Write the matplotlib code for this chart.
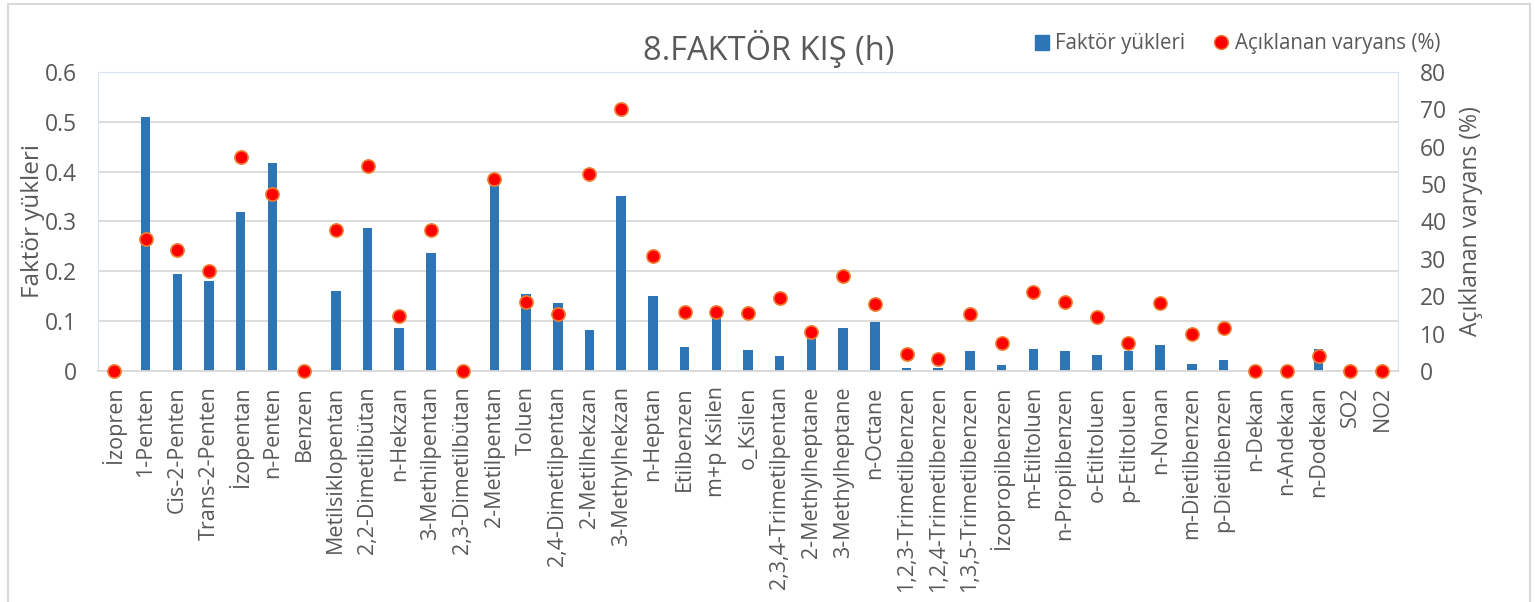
import numpy as np
import matplotlib.pyplot as plt
from matplotlib.lines import Line2D
from matplotlib.patches import Rectangle

plt.rcParams['font.family'] = ['Open Sans', 'DejaVu Sans']

bilesikler = ['İzopren', '1-Penten', 'Cis-2-Penten', 'Trans-2-Penten', 'İzopentan',
              'n-Penten', 'Benzen', 'Metilsiklopentan', '2,2-Dimetilbütan', 'n-Hekzan',
              '3-Methilpentan', '2,3-Dimetilbütan', '2-Metilpentan', 'Toluen',
              '2,4-Dimetilpentan', '2-Metilhekzan', '3-Methylhekzan', 'n-Heptan',
              'Etilbenzen', 'm+p Ksilen', 'o_Ksilen', '2,3,4-Trimetilpentan',
              '2-Methylheptane', '3-Methylheptane', 'n-Octane', '1,2,3-Trimetilbenzen',
              '1,2,4-Trimetilbenzen', '1,3,5-Trimetilbenzen', 'İzopropilbenzen',
              'm-Etiltoluen', 'n-Propilbenzen', 'o-Etiltoluen', 'p-Etiltoluen', 'n-Nonan',
              'm-Dietilbenzen', 'p-Dietilbenzen', 'n-Dekan', 'n-Andekan', 'n-Dodekan',
              'SO2', 'NO2']

faktor_yukleri = [0.0, 0.51, 0.194, 0.181, 0.32, 0.418, 0.0, 0.161, 0.286, 0.086,
                  0.236, 0.0, 0.38, 0.155, 0.137, 0.082, 0.352, 0.151, 0.048, 0.115,
                  0.042, 0.030, 0.075, 0.086, 0.098, 0.007, 0.006, 0.041, 0.012,
                  0.044, 0.040, 0.032, 0.041, 0.052, 0.014, 0.022, 0.0, 0.0, 0.045,
                  0.0, 0.0]

varyans = [0.0, 35.2, 32.4, 26.7, 57.2, 47.4, 0.0, 37.6, 54.8, 14.7,
           37.7, 0.0, 51.5, 18.4, 15.3, 52.6, 70.2, 30.8, 15.7, 15.7,
           15.4, 19.4, 10.5, 25.3, 17.8, 4.5, 3.2, 15.2, 7.6,
           21.1, 18.4, 14.4, 7.5, 18.1, 9.8, 11.6, 0.0, 0.0, 4.0,
           0.0, 0.0]

yazi = '#595959'
mavi = '#2E75B6'

fig = plt.figure(figsize=(15.35, 6.02), dpi=100)
fig.patches.append(Rectangle((8 / 1535, -0.01), 1522 / 1535, 1 - 4 / 602 + 0.01,
                             transform=fig.transFigure, fill=False,
                             edgecolor='#D9D9D9', linewidth=1.5))

ax = fig.add_axes([98 / 1535, 1 - 371 / 602, 1300 / 1535, 299 / 602])
x = np.arange(len(bilesikler))
ax.bar(x, faktor_yukleri, width=0.3, color=mavi, zorder=2)
ax.set_xlim(-0.5, len(bilesikler) - 0.5)
ax.set_ylim(0, 0.6)
ax.set_yticks(np.arange(0, 0.61, 0.1))
ax.set_yticklabels(['0', '0.1', '0.2', '0.3', '0.4', '0.5', '0.6'])
ax.yaxis.grid(True, color='#D9D9D9', linewidth=1.3, zorder=0)
ax.set_axisbelow(True)
ax.set_xticks(x)
ax.set_xticklabels(bilesikler, rotation=90, fontsize=15.5, color=yazi)
ax.tick_params(axis='x', length=0, pad=11)
ax.tick_params(axis='y', length=0, labelsize=16.5, labelcolor=yazi, pad=15)
ax.set_ylabel('Faktör yükleri', fontsize=17.5, color=yazi, labelpad=0)
for k in ['top', 'left', 'right']:
    ax.spines[k].set_color('#DAE3F3')
ax.spines['bottom'].set_color('#D9D9D9')
ax.spines['bottom'].set_linewidth(1.3)

ax2 = ax.twinx()
ax2.scatter(x, varyans, s=90, color='#FF0000', edgecolors='#ED7D31',
            linewidths=1.2, zorder=3, clip_on=False)
ax2.set_ylim(0, 80)
ax2.set_yticks(np.arange(0, 81, 10))
ax2.tick_params(axis='y', length=0, labelsize=16.5, labelcolor=yazi, pad=16)
ax2.set_ylabel('Açıklanan varyans (%)', fontsize=16.5, color=yazi, labelpad=9)
for k in ax2.spines:
    ax2.spines[k].set_visible(False)

fig.text(769 / 1535, 1 - 49 / 602, '8.FAKTÖR KIŞ (h)', fontsize=23.5, color=yazi,
         ha='center', va='center')

tutamak = [Rectangle((0, 0), 1, 1, color=mavi),
           Line2D([], [], linestyle='none', marker='o', markersize=10,
                  markerfacecolor='#FF0000', markeredgecolor='#ED7D31')]
fig.legend(tutamak, ['Faktör yükleri', 'Açıklanan varyans (%)'], ncol=2,
           loc='center left', bbox_to_anchor=(1016 / 1535, 1 - 44 / 602),
           frameon=False, fontsize=14.8, labelcolor=yazi, handlelength=0.7,
           handleheight=0.7, handletextpad=0.3, columnspacing=1.4)

fig.savefig('out.png', dpi=100)
